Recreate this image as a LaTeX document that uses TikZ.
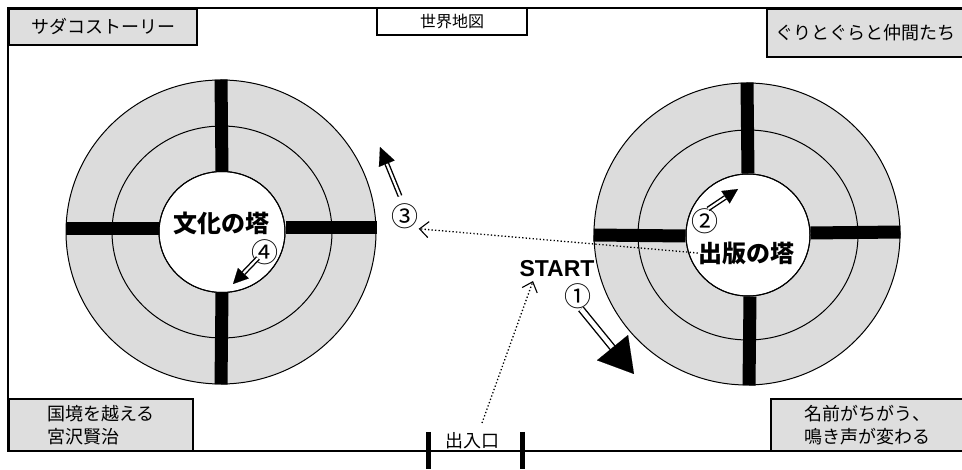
\documentclass[tikz,border=0pt]{standalone}
\usepackage{fontspec}
\setmainfont{Liberation Sans}
\newfontfamily\jp{Noto Sans CJK JP}
\usetikzlibrary{arrows.meta,shapes.geometric}
\definecolor{ringgray}{HTML}{DCDCDC}
\definecolor{boxgray}{HTML}{DEDEDE}
\begin{document}
\begin{tikzpicture}[x=1pt,y=-1pt,
  frameline/.style={line width=1.3pt},
  graybox/.style={draw, line width=1.1pt, fill=boxgray, inner sep=0pt,
    font=\jp\fontsize{18}{23}\selectfont},
  whitebox/.style={draw, line width=1.1pt, fill=white, inner sep=0pt,
    font=\jp\fontsize{16}{21}\selectfont},
  ringouter/.style={ellipse, draw, line width=1pt, fill=ringgray, inner sep=0pt},
  ringmid/.style={ellipse, draw, line width=1pt, inner sep=0pt},
  ringinner/.style={ellipse, draw, line width=1pt, fill=white, inner sep=0pt},
  wallbar/.style={line width=13pt},
  towerlabel/.style={font=\jp\bfseries\fontsize{24}{24}\selectfont, inner sep=0pt},
  numlabel/.style={font=\jp\fontsize{27}{27}\selectfont, inner sep=0pt},
  hollowshaft/.style={double=white, double distance=#1, line width=1.4pt},
  dotarrow/.style={line width=1.3pt, dash pattern=on 1.3pt off 2.2pt,
    -{Straight Barb[length=9pt,width=16pt,line width=1.1pt]}},
  gatebar/.style={line width=5pt}
]
\useasboundingbox (0,0) rectangle (962,470);

% frame
\draw[frameline] (963,8) -- (8,8) -- (8,451) -- (963,451);

% corner and title boxes
\node[graybox, minimum width=188, minimum height=36] (sadako) at (103,27) {サダコストーリー};
\node[whitebox, minimum width=150, minimum height=27] (world) at (452,21.5) {世界地図};
\node[graybox, minimum width=196, minimum height=48] (guri) at (865,33) {ぐりとぐらと仲間たち};
\node[graybox, minimum width=184, minimum height=52, align=left] (miyazawa) at (101,425) {国境を越える\\宮沢賢治};
\node[graybox, minimum width=192, minimum height=52, align=center] (namae) at (867,425) {名前がちがう、\\鳴き声が変わる};

% gate
\draw[gatebar] (428,432) -- (428,469);
\draw[gatebar] (522,432) -- (522,469);
\node[font=\jp\fontsize{18}{18}\selectfont, inner sep=0pt] (gatelabel) at (472,441) {出入口};

% left tower
\node[ringouter, minimum width=310, minimum height=304] (outL) at (221,232) {};
\node[ringmid, minimum width=220, minimum height=212] (midL) at (222,232) {};
\node[ringinner, minimum width=126, minimum height=121] (inL) at (222,232) {};
\draw[wallbar] (outL.north) -- (inL.north);
\draw[wallbar] (outL.south) -- (inL.south);
\draw[wallbar] ([yshift=3]outL.west) -- ([yshift=3]inL.west);
\draw[wallbar] ([yshift=4]outL.east) -- ([yshift=4]inL.east);
\draw[line width=1pt] (inL) ellipse [x radius=63, y radius=60.5];
\node[towerlabel] (bunka) at (221,223) {文化の塔};

% right tower
\node[ringouter, minimum width=306, minimum height=302] (outR) at (747,234) {};
\node[ringmid, minimum width=220, minimum height=210] (midR) at (748,235) {};
\node[ringinner, minimum width=124, minimum height=122] (inR) at (748,235) {};
\draw[wallbar] (outR.north) -- (inR.north);
\draw[wallbar] ([xshift=2]outR.south) -- ([xshift=2]inR.south);
\draw[wallbar] ([yshift=-1]outR.west) -- ([yshift=-1]inR.west);
\draw[wallbar] ([yshift=2]outR.east) -- ([yshift=2]inR.east);
\draw[line width=1pt] (inR) ellipse [x radius=62, y radius=61];
\node[towerlabel] (shuppan) at (746,253) {出版の塔};

% numbers and START
\node[numlabel] (n1) at (578,296) {①};
\node[numlabel] (n2) at (705,221) {②};
\node[numlabel] (n3) at (405,216) {③};
\node[numlabel] (n4) at (265,252) {④};
\node[font=\bfseries\fontsize{23}{23}\selectfont, inner sep=0pt] (start) at (557,269) {START};

% hollow arrows
\coordinate (a1t) at (581,309); \coordinate (a1b) at (612,347); \coordinate (a1h) at (634,374);
\draw[hollowshaft=4.5pt] (a1t) -- ([shift={(2,2.5)}]a1b);
\draw[line width=0.1pt, -{Triangle[length=34pt,width=40pt]}] (a1b) -- (a1h);

\coordinate (a2t) at (708,209); \coordinate (a2b) at (725.5,197.3); \coordinate (a2h) at (738,189);
\draw[hollowshaft=2.2pt] (a2t) -- (a2b);
\draw[line width=0.1pt, -{Triangle[length=15pt,width=15pt]}] (a2b) -- (a2h);

\coordinate (a3t) at (400,196); \coordinate (a3b) at (386.8,163.7); \coordinate (a3h) at (380,147);
\draw[hollowshaft=2.2pt] (a3t) -- (a3b);
\draw[line width=0.1pt, -{Triangle[length=18pt,width=17pt]}] (a3b) -- (a3h);

\coordinate (a4t) at (258,258); \coordinate (a4b) at (243.4,273.2); \coordinate (a4h) at (233,284);
\draw[hollowshaft=2.2pt] (a4t) -- (a4b);
\draw[line width=0.1pt, -{Triangle[length=15pt,width=15pt]}] (a4b) -- (a4h);

% dotted arrows
\draw[dotarrow] (shuppan.west) -- (n3.south east);
\coordinate (gate) at (482,423);
\coordinate (starttip) at (533,281);
\draw[dotarrow] (gate) -- (starttip);
\end{tikzpicture}
\end{document}
